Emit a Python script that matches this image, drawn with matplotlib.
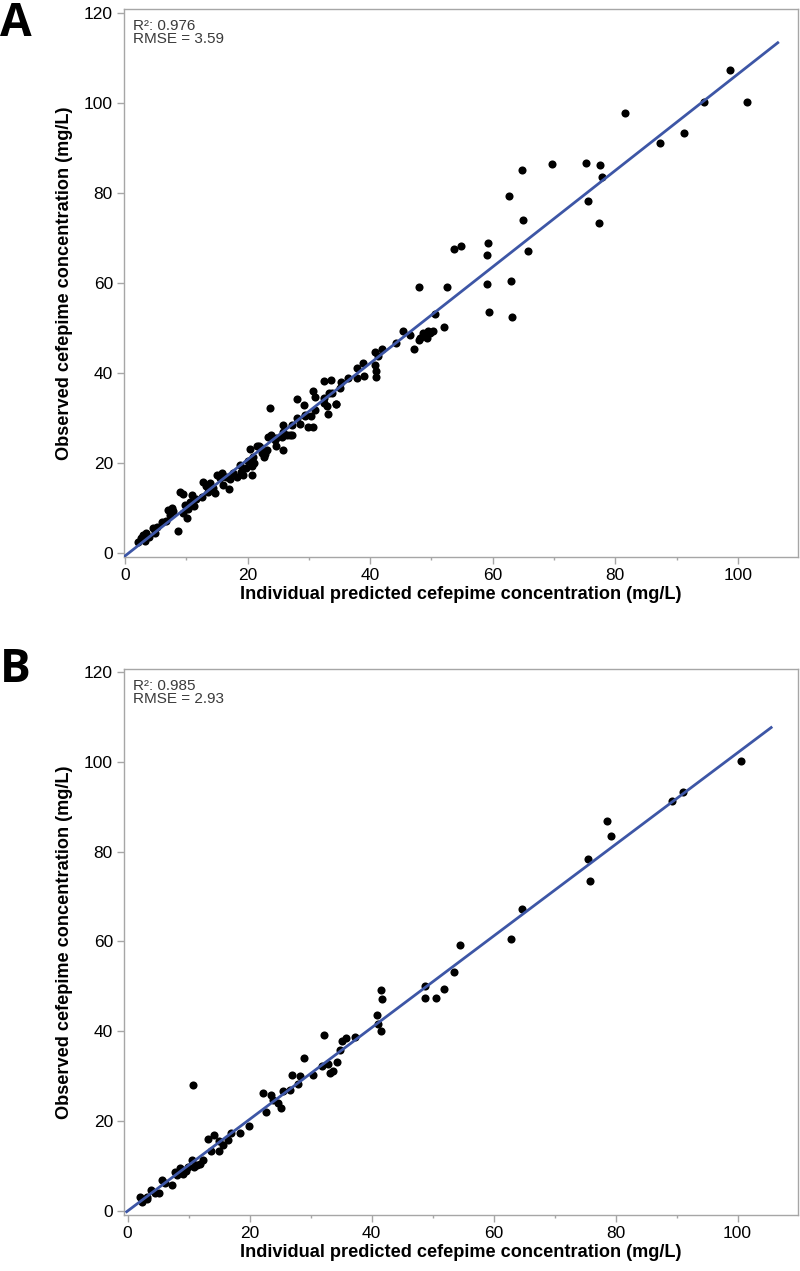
import matplotlib
matplotlib.use("Agg")
import matplotlib.pyplot as plt
import numpy as np
from matplotlib.ticker import MultipleLocator

plt.rcParams['font.family'] = ['Liberation Sans', 'DejaVu Sans']

# ---------------- Panel A data ----------------
a_pred = [2.2, 2.6, 3.0, 3.3, 3.5, 4.0, 4.5, 4.9, 5.3, 6.0, 6.7, 7.0, 7.3, 7.6, 7.9,
          8.7, 9.0, 9.4, 9.5, 9.8, 10.1, 10.3, 10.6, 10.9, 11.3, 11.6, 12.5, 12.8,
          13.2, 13.6, 13.9, 14.3, 14.7, 15.0, 15.5, 15.8, 16.0, 16.5, 16.9, 17.1,
          17.7, 18.2, 18.8, 19.0, 19.3, 19.8, 20.1, 20.7, 20.4, 21.5,
          20.9, 20.8, 21.8, 22.3, 22.8, 23.1, 23.7, 23.4, 23.9, 24.5, 24.7, 25.6,
          25.8, 25.7, 26.5, 27.2, 27.2, 28.0, 28.0, 28.5, 29.2, 29.4, 29.9, 30.3,
          30.7, 30.7, 31.0, 31.0, 32.4, 32.5, 32.5, 32.9, 33.1, 33.6, 33.7, 34.5,
          35.1, 35.2, 36.4, 37.8, 37.8, 38.8, 39.0, 40.8, 40.8, 40.9, 40.9, 41.3,
          42.0, 44.2, 45.3, 46.5, 47.1, 48.2, 48.7, 49.2, 49.5, 50.3, 50.5, 52.1,
          22.0, 22.6, 21.0, 24.7, 26.9, 25.7, 29.4, 33.3, 34.4, 48.0, 48.6, 49.8,
          48.0, 52.5, 53.7, 54.9, 59.3, 59.0, 59.0, 63.0, 62.7, 64.8, 64.9, 65.7,
          69.6, 75.2, 77.5, 77.9, 75.6, 77.3, 81.6, 87.3, 91.2, 94.4, 98.7, 101.5,
          59.4, 63.2]
a_obs = [2.4, 3.3, 4.1, 2.8, 4.4, 3.7, 5.6, 4.6, 5.9, 7.0, 7.2, 9.6, 8.5, 10.0, 9.3,
         5.0, 13.7, 13.2, 8.9, 10.7, 7.8, 9.8, 11.5, 13.0, 10.5, 12.0, 12.4, 15.9,
         15.0, 13.7, 15.6, 14.4, 13.5, 17.4, 16.7, 17.8, 15.2, 16.9, 14.2, 16.4,
         17.9, 17.0, 19.6, 18.1, 17.4, 18.9, 20.4, 17.4, 23.2, 23.9,
         21.5, 19.3, 23.9, 22.2, 22.1, 23.0, 32.2, 25.9, 26.3, 25.2, 23.9, 25.9,
         23.0, 28.5, 26.3, 26.3, 28.5, 34.2, 30.0, 28.7, 32.9, 30.4, 28.0, 30.4,
         28.0, 36.1, 34.8, 31.9, 38.3, 34.4, 33.3, 32.7, 31.0, 38.5, 35.6, 33.2,
         36.7, 38.1, 38.9, 38.9, 41.1, 42.2, 39.4, 44.8, 41.9, 40.4, 39.1, 43.8,
         45.3, 46.8, 49.3, 48.5, 45.4, 47.8, 48.9, 47.8, 49.3, 49.5, 53.1, 50.2,
         23.7, 21.5, 20.0, 25.6, 26.3, 27.0, 30.7, 35.6, 33.2, 47.4, 48.2, 49.0,
         59.2, 59.2, 67.6, 68.4, 68.9, 66.2, 59.9, 60.6, 79.4, 85.1, 74.1, 67.2,
         86.6, 86.8, 86.3, 83.7, 78.3, 73.5, 97.9, 91.2, 93.3, 100.4, 107.5, 100.4,
         53.7, 52.6]

# ---------------- Panel B data ----------------
b_pred = [2.0, 2.3, 3.1, 3.2, 3.9, 4.5, 5.2, 5.6, 6.1, 7.2, 7.8, 8.1, 8.6, 9.1,
          9.6, 9.9, 10.5, 10.8, 11.3, 11.9, 12.4, 10.7, 13.2, 13.6, 14.2, 14.9,
          15.0, 15.7, 16.5, 16.9, 18.4, 19.9, 22.2, 22.6, 23.5, 23.9, 24.7, 25.1,
          25.4, 26.6, 27.0, 28.0, 28.3, 28.9, 30.4, 31.8, 32.2, 32.8, 33.2, 33.7,
          34.3, 34.8, 35.2, 35.8, 37.3, 40.8, 41.0, 41.5, 41.7, 41.5, 48.7, 48.7,
          50.5, 51.9, 54.5, 53.5, 62.8, 64.7, 75.4, 75.8, 78.6, 79.3, 89.3, 91.0,
          100.6]
b_obs = [3.1, 2.0, 2.5, 3.0, 4.6, 4.0, 4.0, 6.8, 6.2, 5.7, 8.7, 7.9, 9.6, 8.2,
         8.9, 9.8, 11.3, 9.8, 10.2, 10.5, 11.3, 27.9, 15.9, 13.4, 16.8, 15.6,
         13.4, 14.6, 15.8, 17.4, 17.2, 18.9, 26.2, 21.9, 25.8, 24.7, 23.9, 22.9,
         26.7, 27.0, 30.2, 28.2, 30.0, 34.0, 30.2, 32.2, 39.2, 32.6, 30.6, 31.2,
         33.2, 35.8, 37.9, 38.4, 38.8, 43.6, 41.6, 49.2, 47.1, 40.1, 50.1, 47.5,
         47.5, 49.3, 59.2, 53.1, 60.5, 67.2, 78.3, 73.5, 86.8, 83.6, 91.2, 93.3,
         100.3]

# regression lines
a_slope, a_intercept, a_xmin, a_xmax = 1.071, -0.6, 0.0, 106.5
b_slope, b_intercept, b_xmin, b_xmax = 1.021, -0.06, -0.16, 105.5

a_stats = ["R\u00b2: 0.976", "RMSE = 3.59"]
b_stats = ["R\u00b2: 0.985", "RMSE = 2.93"]

xlabel = "Individual predicted cefepime concentration (mg/L)"
ylabel = "Observed cefepime concentration (mg/L)"

W, H = 800, 1271
fig = plt.figure(figsize=(W / 100, H / 100), dpi=100)

spine_col = '#a6a6a6'
line_col = '#3d56a6'


def make_panel(rect, xs, ys, slope, intercept, x0, x1, stats, xlim, ylim, letter, letter_y):
    ax = fig.add_axes(rect)
    ax.scatter(xs, ys, s=34, color='black', zorder=3, linewidths=0)
    lx = np.array([x0, x1])
    ax.plot(lx, intercept + slope * lx, color=line_col, lw=2.0, zorder=4)
    ax.set_xlim(*xlim)
    ax.set_ylim(*ylim)
    ax.xaxis.set_major_locator(MultipleLocator(20))
    ax.xaxis.set_minor_locator(MultipleLocator(10))
    ax.yaxis.set_major_locator(MultipleLocator(20))
    for s in ax.spines.values():
        s.set_color(spine_col)
        s.set_linewidth(1.0)
    ax.tick_params(axis='both', which='major', length=5, width=1.0, color=spine_col,
                   labelsize=12.5, labelcolor='black', pad=3)
    ax.tick_params(axis='x', which='minor', length=2.5, width=1.0, color=spine_col)
    ax.set_xlabel(xlabel, fontsize=13.1, fontweight='bold', labelpad=2)
    ax.set_ylabel(ylabel, fontsize=13.1, fontweight='bold', labelpad=8)
    ax.text(0.013, 0.982, stats[0], transform=ax.transAxes, fontsize=11,
            color='#3a3a3a', va='top', ha='left')
    ax.text(0.013, 0.958, stats[1], transform=ax.transAxes, fontsize=11,
            color='#3a3a3a', va='top', ha='left')
    fig.text(0.0, letter_y, letter, fontsize=33, fontweight='bold',
             family=['Open Sans', 'DejaVu Sans'], va='top', ha='left')
    return ax


make_panel([124 / W, 1 - 556.7 / H, (798 - 124) / W, (556.7 - 9) / H],
           a_pred, a_obs, a_slope, a_intercept, a_xmin, a_xmax, a_stats,
           (-0.16, 109.8), (-0.76, 120.96), 'A', 1.0)
make_panel([124 / W, 1 - 1215 / H, (798 - 124) / W, (1215 - 669) / H],
           b_pred, b_obs, b_slope, b_intercept, b_xmin, b_xmax, b_stats,
           (-0.6, 109.9), (-0.96, 120.7), 'B', 1 - 646 / H)

fig.savefig('out.png', dpi=100)
